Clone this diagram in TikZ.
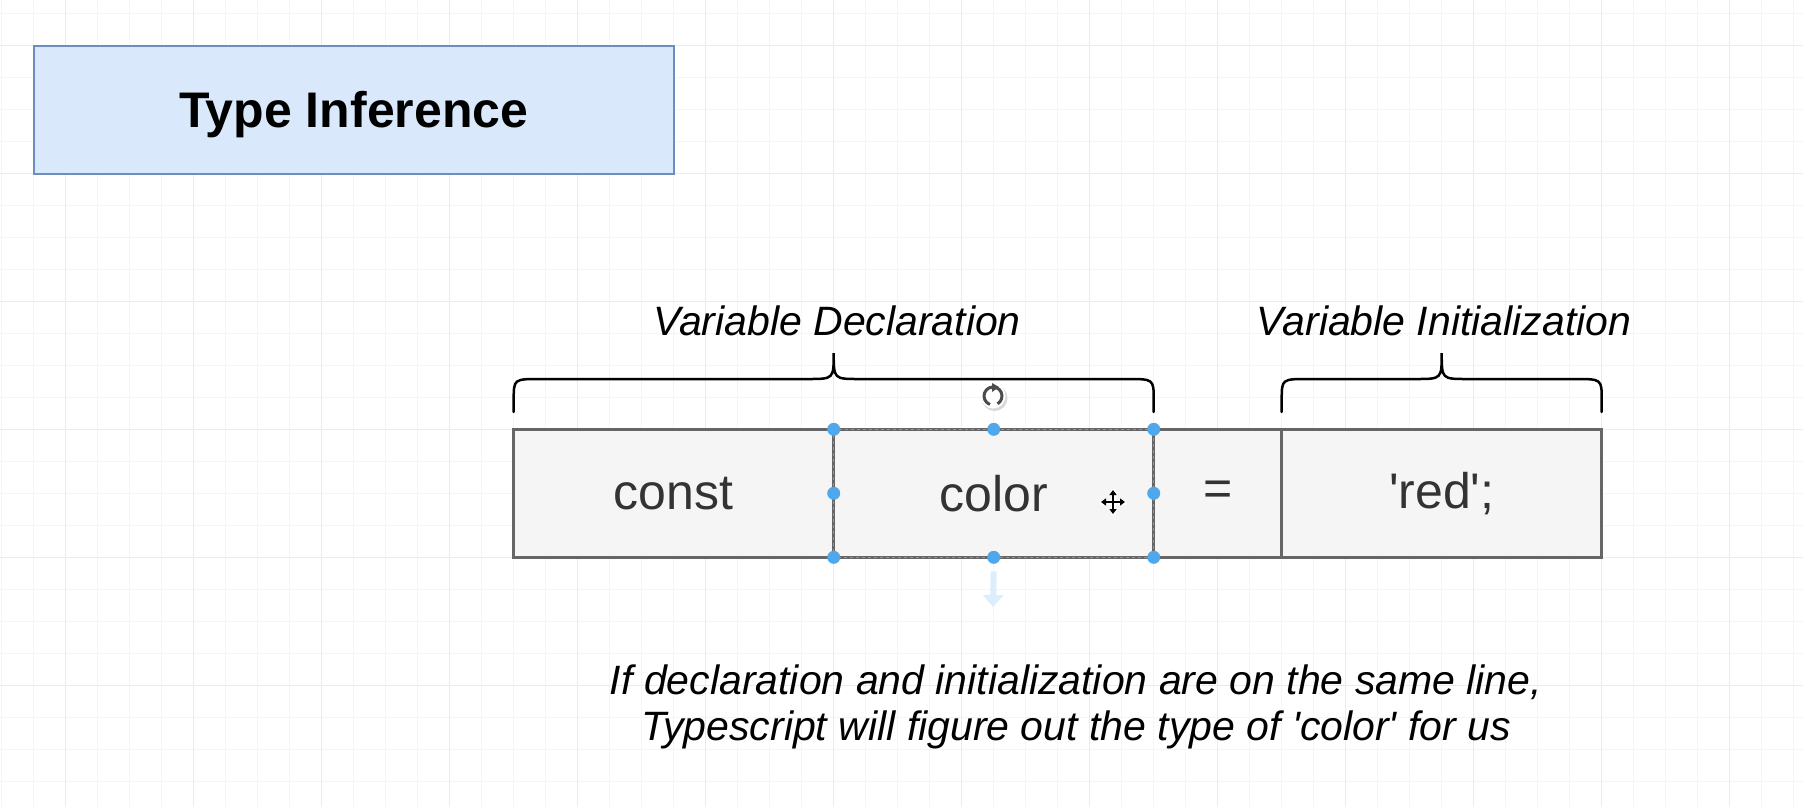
\documentclass[tikz,border=0pt]{standalone}
\usepackage{fontspec}
\setmainfont{Liberation Sans}
\usetikzlibrary{arrows.meta, positioning, calc}

\definecolor{titlefill}{HTML}{DAE8FC}
\definecolor{titledraw}{HTML}{6C8EBF}
\definecolor{cellfill}{HTML}{F5F5F5}
\definecolor{celldraw}{HTML}{666666}
\definecolor{celltext}{HTML}{333333}
\definecolor{selblue}{HTML}{4FA8EC}

\begin{document}
\begin{tikzpicture}[
    x=1pt, y=-1pt,
    titlebox/.style={rectangle, draw=titledraw, line width=2pt, fill=titlefill, minimum width=640pt, minimum height=128pt, inner sep=0pt, outer sep=0pt, font=\fontsize{50}{60}\selectfont\bfseries, text depth=0pt},
    cell/.style={rectangle, draw=celldraw, line width=2.5pt, fill=cellfill, minimum height=128pt, inner sep=0pt, outer sep=0pt, text=celltext, font=\fontsize{50}{60}\selectfont},
    bracelabel/.style={font=\fontsize{41}{46}\selectfont\itshape},
    brace/.style={line width=2.5pt, line cap=round},
    handle/.style={circle, fill=selblue, inner sep=0pt, minimum size=13pt},
    minorline/.style={black!4, line width=1pt},
    majorline/.style={black!8, line width=1.5pt}
]

% ============ CANVAS AND GRID ============
\fill[white] (0,0) rectangle (1803,807);
\useasboundingbox (0,0) rectangle (1803,807);
\foreach \x in {1.7,33.7,...,1803} \draw[minorline] (\x,0) -- (\x,807);
\foreach \y in {13.7,45.7,...,807} \draw[minorline] (0,\y) -- (1803,\y);
\foreach \x in {65.7,193.7,...,1803} \draw[majorline] (\x,0) -- (\x,807);
\foreach \y in {45.7,173.7,...,807} \draw[majorline] (0,\y) -- (1803,\y);

% ============ TITLE ============
\node[titlebox] (title) at (353.7,109.7) {Type Inference};

% ============ CODE ROW ============
\node[cell, minimum width=320pt] (const) at (673.7,493.3) {const};
\node[cell, minimum width=320pt, right=0pt of const] (color) {color};
\node[cell, minimum width=128pt, right=0pt of color] (eq) {=};
\node[cell, minimum width=320pt, right=0pt of eq] (red) {\textquotesingle red\textquotesingle;};

% ============ BRACES ============
\draw[brace] (513.7,412) -- (513.7,400) .. controls (513.7,379) .. (540,379) -- (808,379)
    .. controls (833.7,379) .. (833.7,353) .. controls (833.7,379) .. (859,379) -- (1127,379)
    .. controls (1153.7,379) .. (1153.7,400) -- (1153.7,412);
\node[bracelabel, anchor=base] (decl) at (837,335) {Variable Declaration};

\draw[brace] (1281.7,412) -- (1281.7,400) .. controls (1281.7,379) .. (1308,379) -- (1416,379)
    .. controls (1441.7,379) .. (1441.7,353) .. controls (1441.7,379) .. (1467,379) -- (1575,379)
    .. controls (1601.7,379) .. (1601.7,400) -- (1601.7,412);
\node[bracelabel, anchor=base] (init) at (1444,335) {Variable Initialization};

% ============ SELECTION ON 'color' ============
\draw[selblue, dashed, line width=1.2pt] (color.north west) rectangle (color.south east);
\foreach \a [count=\i] in {north west, north, north east, east, south east, south, south west, west}
    \node[handle] (handle\i) at (color.\a) {};

% rotate handle
\coordinate (rot) at (993,396);
\fill[black!15] ($(rot)+(1.5,2)$) circle (13pt);
\fill[white] (rot) circle (12.5pt);
\draw[black!70, line width=3pt] (rot) ++(110:9) arc (110:420:9);
\fill[black!70] ($(rot)+(-1,-13)$) -- ($(rot)+(6,-9)$) -- ($(rot)+(-1,-4)$) -- cycle;

% move cursor
\coordinate (move) at (1113,502);
\draw[white, line width=5pt] ($(move)+(-13,0)$) -- ($(move)+(13,0)$) ($(move)+(0,-13)$) -- ($(move)+(0,13)$);
\draw[line width=2pt, {Triangle[length=5pt, width=7pt]}-{Triangle[length=5pt, width=7pt]}] ($(move)+(-12,0)$) -- ($(move)+(12,0)$);
\draw[line width=2pt, {Triangle[length=5pt, width=7pt]}-{Triangle[length=5pt, width=7pt]}] ($(move)+(0,-12)$) -- ($(move)+(0,12)$);

% hover arrow
\coordinate (hover) at (993,607);
\draw[selblue!20, line width=6pt, -{Triangle[length=12pt, width=20pt]}] (color.south) ++(0,14) -- (hover);

% ============ NOTE ============
\node[bracelabel, align=center] (note) at (1076,707) {If declaration and initialization are on the same line,\\Typescript will figure out the type of \textquotesingle color\textquotesingle{} for us};

\end{tikzpicture}
\end{document}
